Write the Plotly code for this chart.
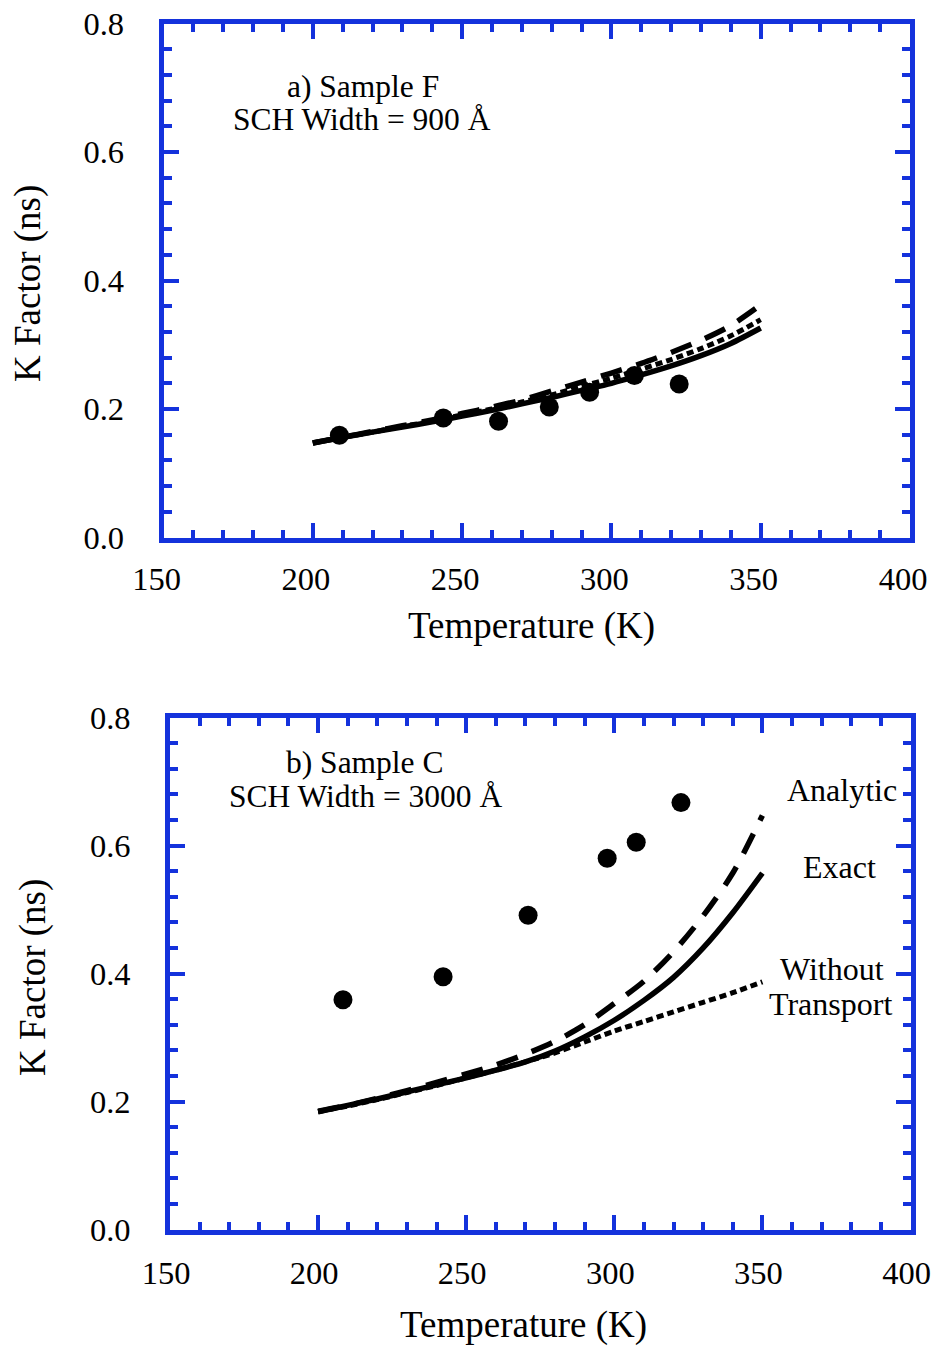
import plotly.graph_objects as go

# ---- data -------------------------------------------------------------
temp_model = [200, 210, 220, 230, 240, 250, 260, 270, 280, 290, 300, 310, 320, 330, 340, 350]

# a) Sample F, SCH width 900 Å
f_exact = [0.147, 0.156, 0.164, 0.172, 0.180, 0.189, 0.198, 0.208, 0.218, 0.229, 0.240, 0.253, 0.267, 0.283, 0.302, 0.326]
f_analytic = [0.147, 0.156, 0.165, 0.174, 0.183, 0.193, 0.203, 0.214, 0.228, 0.242, 0.256, 0.271, 0.288, 0.307, 0.330, 0.362]
f_without = [0.147, 0.156, 0.164, 0.173, 0.181, 0.191, 0.200, 0.211, 0.222, 0.235, 0.248, 0.262, 0.277, 0.294, 0.314, 0.339]
f_temp_meas = [208.9, 243.7, 262.2, 279.2, 292.7, 307.7, 322.7]
f_k_meas = [0.159, 0.186, 0.181, 0.203, 0.226, 0.252, 0.239]

# b) Sample C, SCH width 3000 Å
c_exact = [0.184, 0.194, 0.204, 0.215, 0.226, 0.237, 0.249, 0.262, 0.279, 0.301, 0.327, 0.358, 0.394, 0.440, 0.495, 0.557]
c_analytic = [0.185, 0.194, 0.205, 0.217, 0.230, 0.243, 0.257, 0.274, 0.294, 0.320, 0.353, 0.388, 0.434, 0.490, 0.557, 0.647]
c_without = [0.184, 0.193, 0.203, 0.214, 0.225, 0.237, 0.249, 0.262, 0.276, 0.293, 0.310, 0.325, 0.340, 0.355, 0.370, 0.387]
c_temp_meas = [208.4, 242.2, 270.9, 297.6, 307.4, 322.5]
c_k_meas = [0.359, 0.395, 0.491, 0.580, 0.605, 0.667]

x_ticks = [150, 200, 250, 300, 350, 400]
y_ticks = [0.0, 0.2, 0.4, 0.6, 0.8]
y_tick_text = ["0.0", "0.2", "0.4", "0.6", "0.8"]

# ---- styling ----------------------------------------------------------
W, H = 936, 1347
FONT = "Liberation Serif"
BLUE = "#1432DC"
LINE_W = 5
TICK_SIZE = 32.5
NOTE_SIZE = 32
TITLE_SIZE = 37

fig = go.Figure()


def add_panel(xa, ya, exact, analytic, without, tm, km):
    fig.add_trace(go.Scatter(x=temp_model, y=without, mode="lines", xaxis=xa, yaxis=ya,
                             line=dict(color="black", width=5, dash="7px,4px",
                                       shape="spline", smoothing=0.8)))
    fig.add_trace(go.Scatter(x=temp_model, y=analytic, mode="lines", xaxis=xa, yaxis=ya,
                             line=dict(color="black", width=5.5, dash="22px,15px",
                                       shape="spline", smoothing=0.8)))
    fig.add_trace(go.Scatter(x=temp_model, y=exact, mode="lines", xaxis=xa, yaxis=ya,
                             line=dict(color="black", width=5.5, shape="spline", smoothing=0.8)))
    fig.add_trace(go.Scatter(x=tm, y=km, mode="markers", xaxis=xa, yaxis=ya,
                             marker=dict(color="black", size=19, line=dict(width=0))))


add_panel("x", "y", f_exact, f_analytic, f_without, f_temp_meas, f_k_meas)
add_panel("x2", "y2", c_exact, c_analytic, c_without, c_temp_meas, c_k_meas)


def px_x(p):
    return p / W


def px_y(p):
    return 1 - p / H


def x_axis(domain, anchor, shift, standoff):
    return dict(
        domain=domain, anchor=anchor, range=[150, 400], automargin=False,
        tickmode="array", tickvals=x_ticks, ticktext=[str(v) for v in x_ticks],
        ticks="inside", ticklen=15, tickwidth=4, tickcolor=BLUE,
        minor=dict(dtick=10, ticks="inside", ticklen=8, tickwidth=4, tickcolor=BLUE, showgrid=False),
        showline=True, linecolor=BLUE, linewidth=LINE_W, mirror="allticks",
        showgrid=False, zeroline=False,
        tickfont=dict(family=FONT, size=TICK_SIZE, color="black"),
        ticklabelstandoff=standoff, ticklabelshift=shift,
    )


def y_axis(domain, anchor):
    return dict(
        domain=domain, anchor=anchor, range=[0, 0.8], automargin=False,
        tickmode="array", tickvals=y_ticks, ticktext=y_tick_text,
        ticks="inside", ticklen=15, tickwidth=4, tickcolor=BLUE,
        minor=dict(dtick=0.04, ticks="inside", ticklen=8, tickwidth=4, tickcolor=BLUE, showgrid=False),
        showline=True, linecolor=BLUE, linewidth=LINE_W, mirror="allticks",
        showgrid=False, zeroline=False,
        tickfont=dict(family=FONT, size=TICK_SIZE, color="black"),
        ticklabelstandoff=28,
    )


fig.update_layout(
    template="none",
    width=W, height=H,
    margin=dict(l=0, r=0, t=0, b=0, pad=0),
    paper_bgcolor="white", plot_bgcolor="white",
    showlegend=False,
    xaxis=x_axis([px_x(163.5), px_x(910)], "y", -7, 8),
    yaxis=y_axis([px_y(537.5), px_y(23.5)], "x"),
    xaxis2=x_axis([px_x(170), px_x(910.5)], "y2", -4, 10),
    yaxis2=y_axis([px_y(1229.5), px_y(717.5)], "x2"),
)


def label(text, x, y, size=NOTE_SIZE, angle=0):
    fig.add_annotation(text=text, x=px_x(x), y=px_y(y), xref="paper", yref="paper",
                       xanchor="center", yanchor="middle", showarrow=False, textangle=angle,
                       borderpad=0, font=dict(family=FONT, size=size, color="black"))


# panel captions
label("a) Sample F", 363, 86, size=31.5)
label("SCH Width = 900 Å", 362, 120, size=31.5)
label("b) Sample C", 365, 762, size=31.5)
label("SCH Width = 3000 Å", 365, 796, size=31.5)

# curve names
label("Analytic", 842, 790)
label("Exact", 839, 867)
label("Without", 832, 969)
label("Transport", 830, 1004)

# axis titles
label("Temperature (K)", 531, 626, size=TITLE_SIZE)
label("Temperature (K)", 523, 1325, size=TITLE_SIZE)
label("K Factor (ns)", 28, 284, size=TITLE_SIZE, angle=-90)
label("K Factor (ns)", 33, 978, size=TITLE_SIZE, angle=-90)

fig.write_html("out.html")
